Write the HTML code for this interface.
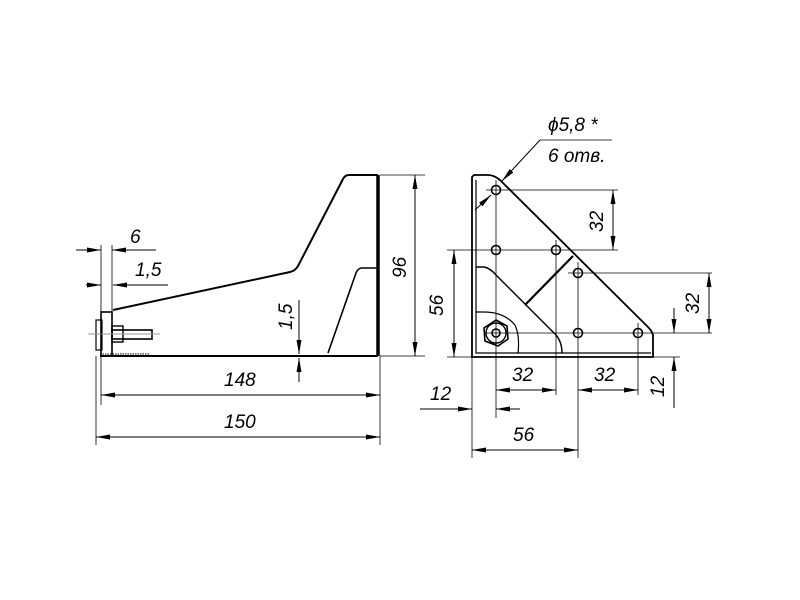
<!DOCTYPE html>
<html><head><meta charset="utf-8"><style>
html,body{margin:0;padding:0;background:#fff;}
svg{display:block}
text{font-family:"Liberation Sans",sans-serif;font-style:italic;font-size:19px;fill:#000}
</style></head><body>
<svg width="800" height="600" viewBox="0 0 800 600" xmlns="http://www.w3.org/2000/svg">
<defs>
<marker id="a" viewBox="0 0 14 5" refX="14" refY="2.5" markerWidth="14" markerHeight="5" orient="auto" markerUnits="userSpaceOnUse"><path d="M0,0 L14,2.5 L0,5z" fill="#000"/></marker>
</defs>
<g fill="none" stroke="#000" stroke-width="1">
<!-- LEFT VIEW -->
<path d="M378,175 L349,175 Q345,175 343,179 L298,266 Q295,271 290,272 L113,310" stroke-width="2"/>
<line x1="378" y1="175" x2="378" y2="356" stroke-width="3.5"/>
<path d="M378,268 L362,268 Q358,268 356,273 L328,353" stroke-width="1.6"/>
<line x1="100" y1="356" x2="378" y2="356" stroke-width="2"/>
<line x1="100" y1="354" x2="150" y2="354" stroke-dasharray="1.5 1"/>
<rect x="101" y="312" width="11" height="44" stroke-width="1.6"/>
<rect x="96" y="320" width="6" height="30" stroke-width="1.2"/>
<rect x="112" y="326" width="11" height="16" stroke-width="1.4"/>
<rect x="112" y="330" width="40" height="9" stroke-width="1.6"/>
<line x1="88" y1="334" x2="160" y2="334" stroke="#999"/>
<!-- dims left -->
<line x1="101" y1="245" x2="101" y2="356" stroke-width="0.8"/>
<line x1="112" y1="245" x2="112" y2="312" stroke-width="0.8"/>
<line x1="96" y1="356" x2="96" y2="445" stroke-width="0.8"/>
<line x1="101" y1="356" x2="101" y2="405" stroke-width="0.8"/>
<line x1="76" y1="250" x2="101" y2="250" marker-end="url(#a)"/>
<line x1="156" y1="250" x2="112" y2="250" marker-end="url(#a)"/>
<line x1="86" y1="285" x2="101" y2="285" marker-end="url(#a)"/>
<line x1="168" y1="285" x2="113" y2="285" marker-end="url(#a)"/>
<line x1="200" y1="395" x2="380" y2="395" marker-end="url(#a)"/>
<line x1="300" y1="395" x2="101" y2="395" marker-end="url(#a)"/>
<line x1="96" y1="437" x2="380" y2="437" marker-end="url(#a)"/>
<line x1="300" y1="437" x2="96" y2="437" marker-end="url(#a)"/>
<line x1="380" y1="356" x2="380" y2="445" stroke-width="0.8"/>
<line x1="299" y1="300" x2="299" y2="354" marker-end="url(#a)"/>
<line x1="299" y1="382" x2="299" y2="358" marker-end="url(#a)"/>
<line x1="380" y1="175" x2="425" y2="175" stroke-width="0.8"/>
<line x1="380" y1="356" x2="425" y2="356" stroke-width="0.8"/>
<line x1="415" y1="260" x2="415" y2="175" marker-end="url(#a)"/>
<line x1="415" y1="260" x2="415" y2="356" marker-end="url(#a)"/>
<!-- RIGHT VIEW -->
<path d="M474,175 L472,177 L472,357 L653,357 L653,335 Q652,331 648,327 L500,180 Q494,175 488,175 Z" stroke-width="1.8"/>
<path d="M476,180 L476,353 L651,353" stroke-width="1.2"/>
<path d="M476,267 L484,267 Q490,268 496,275 L556,335 Q562,342 562,353" stroke-width="1.4"/>
<line x1="525" y1="305" x2="573" y2="256" stroke-width="2.2"/>
<path d="M476,312 L484,312 Q504,312 515,325 Q520,336 518,353" stroke-width="1.2"/>
<polygon points="496,320 507,326 508,339 498,346 485,341 484,328" stroke-width="1.6"/>
<circle cx="496" cy="333" r="10" stroke-width="1.4"/>
<circle cx="496" cy="333" r="4" stroke-width="1.6"/>
<g stroke-width="1.6">
<circle cx="496" cy="190" r="4.5"/><circle cx="496" cy="250" r="4.5"/><circle cx="556" cy="250" r="4.5"/>
<circle cx="578" cy="273" r="4.5"/><circle cx="578" cy="333" r="4.5"/><circle cx="638" cy="333" r="4.5"/>
</g>
<!-- right dims -->
<g stroke-width="0.8">
<line x1="496" y1="180" x2="496" y2="418"/>
<line x1="556" y1="240" x2="556" y2="395"/>
<line x1="578" y1="262" x2="578" y2="458"/>
<line x1="638" y1="323" x2="638" y2="395"/>
<line x1="472" y1="357" x2="472" y2="458"/>
<line x1="486" y1="190" x2="618" y2="190"/>
<line x1="447" y1="250" x2="618" y2="250"/>
<line x1="568" y1="273" x2="712" y2="273"/>
<line x1="486" y1="333" x2="712" y2="333"/>
<line x1="447" y1="357" x2="680" y2="357"/>
</g>
<line x1="613" y1="220" x2="613" y2="190" marker-end="url(#a)"/>
<line x1="613" y1="220" x2="613" y2="250" marker-end="url(#a)"/>
<line x1="454" y1="300" x2="454" y2="250" marker-end="url(#a)"/>
<line x1="454" y1="300" x2="454" y2="357" marker-end="url(#a)"/>
<line x1="709" y1="303" x2="709" y2="273" marker-end="url(#a)"/>
<line x1="709" y1="303" x2="709" y2="333" marker-end="url(#a)"/>
<line x1="674" y1="308" x2="674" y2="333" marker-end="url(#a)"/>
<line x1="674" y1="408" x2="674" y2="357" marker-end="url(#a)"/>
<line x1="526" y1="390" x2="496" y2="390" marker-end="url(#a)"/>
<line x1="526" y1="390" x2="556" y2="390" marker-end="url(#a)"/>
<line x1="608" y1="390" x2="578" y2="390" marker-end="url(#a)"/>
<line x1="608" y1="390" x2="638" y2="390" marker-end="url(#a)"/>
<line x1="420" y1="409" x2="472" y2="409" marker-end="url(#a)"/>
<line x1="520" y1="409" x2="496" y2="409" marker-end="url(#a)"/>
<line x1="525" y1="450" x2="472" y2="450" marker-end="url(#a)"/>
<line x1="525" y1="450" x2="578" y2="450" marker-end="url(#a)"/>
<line x1="612" y1="140" x2="540" y2="140" stroke-width="0.8"/>
<line x1="540" y1="140" x2="502" y2="181" marker-end="url(#a)"/>
<line x1="475" y1="210" x2="491" y2="195" marker-end="url(#a)"/>
</g>
<text x="548" y="131">ϕ5,8 *</text>
<text x="548" y="162">6 отв.</text>
<text x="130" y="243">6</text>
<text x="135" y="276">1,5</text>
<text x="224" y="386">148</text>
<text x="224" y="428">150</text>
<text x="0" y="0" transform="translate(292,330) rotate(-90)">1,5</text>
<text x="0" y="0" transform="translate(406,278) rotate(-90)">96</text>
<text x="0" y="0" transform="translate(443,316) rotate(-90)">56</text>
<text x="0" y="0" transform="translate(603,232) rotate(-90)">32</text>
<text x="0" y="0" transform="translate(699,314) rotate(-90)">32</text>
<text x="0" y="0" transform="translate(664,397) rotate(-90)">12</text>
<text x="512" y="381">32</text>
<text x="594" y="381">32</text>
<text x="430" y="400">12</text>
<text x="513" y="441">56</text>
</svg>
</body></html>
